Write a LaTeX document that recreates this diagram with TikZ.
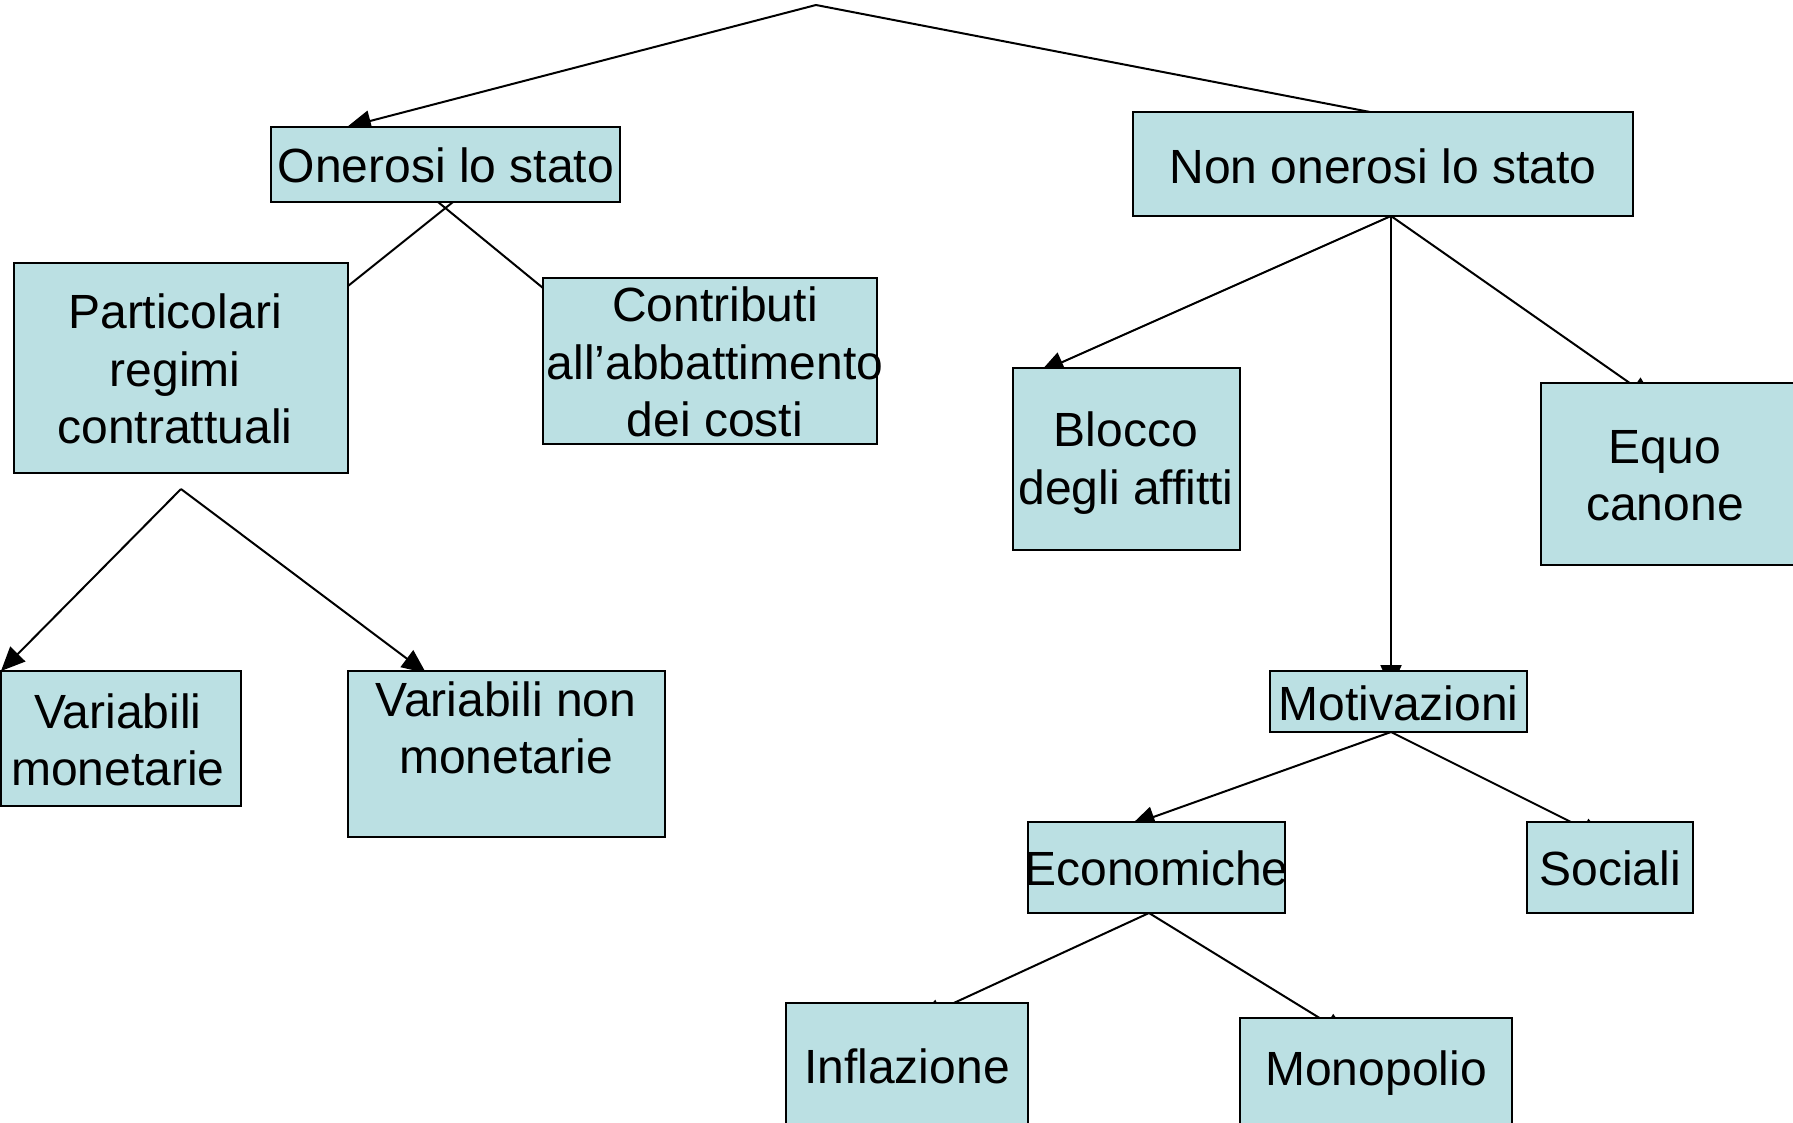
\documentclass[tikz,border=0pt]{standalone}
\usepackage{fontspec}
\setmainfont{Liberation Sans}
\usetikzlibrary{arrows.meta,calc,backgrounds}
\definecolor{boxfill}{RGB}{187,224,227}
\begin{document}
\begin{tikzpicture}[x=0.5pt,y=-0.5pt,
  box/.style={draw=black,line width=1pt,fill=boxfill,inner sep=0pt,outer sep=0pt,rectangle},
  txt/.style={font=\fontsize{24}{28.6}\selectfont,align=center,inner sep=0pt},
  conn/.style={line width=1pt,black},
  arr/.style={conn,-{Triangle[length=12pt,width=10.5pt]}}]
\useasboundingbox (0,0) rectangle (1793,1123);
% boxes
\node[box,minimum width=174.5pt,minimum height=37.5pt] (on)   at (445.5,164.5) {};
\node[box,minimum width=250pt,minimum height=52pt]     (non)  at (1383,164) {};
\node[box,minimum width=167pt,minimum height=105pt]    (par)  at (181,368) {};
\node[box,minimum width=167pt,minimum height=83pt]     (con)  at (710,361) {};
\node[box,minimum width=113.5pt,minimum height=91pt]   (blo)  at (1126.5,459) {};
\node[box,minimum width=129.5pt,minimum height=91pt]   (equ)  at (1670.5,474) {};
\node[box,minimum width=120pt,minimum height=67.5pt]   (vm)   at (121,738.5) {};
\node[box,minimum width=158.5pt,minimum height=83pt]   (vnm)  at (506.5,754) {};
\node[box,minimum width=128.5pt,minimum height=30.5pt] (mot)  at (1398.5,701.5) {};
\node[box,minimum width=128.5pt,minimum height=45.5pt] (eco)  at (1156.5,867.5) {};
\node[box,minimum width=83pt,minimum height=45.5pt]    (soc)  at (1610,867.5) {};
\node[box,minimum width=121pt,minimum height=63pt]     (inf)  at (907,1066) {};
\node[box,minimum width=136pt,minimum height=55pt]     (mono) at (1376,1073) {};
% texts
\node[txt] (ton)   at (446,165)   {Onerosi lo stato};
\node[txt] (tnon)  at (1383,166)  {Non onerosi lo stato};
\node[txt] (tpar)  at (175,369)   {Particolari\\regimi\\contrattuali};
\node[txt] (tcon)  at (715,362)   {Contributi\\all’abbattimento\\dei costi};
\node[txt] (tblo)  at (1126,463)  {Blocco\\degli affitti};
\node[txt] (tequ)  at (1665,476)  {Equo\\canone};
\node[txt] (tvm)   at (118,740)   {Variabili\\monetarie};
\node[txt] (tvnm)  at (506,727.5) {Variabili non\\monetarie};
\node[txt] (tmot)  at (1398.5,703) {Motivazioni};
\node[txt] (teco)  at (1156.5,868) {Economiche};
\node[txt] (tsoc)  at (1610,868)  {Sociali};
\node[txt] (tinf)  at (907,1066)  {Inflazione};
\node[txt] (tmono) at (1376,1073) {Monopolio};
% connectors
\coordinate (apex) at (816,5);
\coordinate (fork) at ($(par.south)+(0,16)$);
\begin{scope}[on background layer]
\draw[arr]  (apex) -- ($(on.north)+(-98.5,0)$);
\draw[conn] (apex) -- ($(non.north)+(-13,0)$);
\draw[conn] ($(on.south)+(7.5,0)$) -- ($(par.north east)+(0,23)$);
\draw[conn] ($(on.south)+(-7.5,0)$) -- ($(con.north west)+(0,10)$);
\draw[arr]  (fork) -- ($(vm.north west)+(0,0)$);
\draw[arr]  (fork) -- ($(vnm.north west)+(78,2)$);
\draw[arr]  ($(non.south)+(8,0)$) -- ($(blo.north west)+(27,4)$);
\draw[arr]  ($(non.south)+(8,-14)$) -- ($(mot.north)+(-7.5,18)$);
\draw[arr]  ($(non.south)+(8,0)$) -- ($(equ.north west)+(113,17)$);
\draw[arr]  ($(mot.south)+(-7.5,0)$) -- ($(eco.north west)+(103,3)$);
\draw[arr]  ($(mot.south)+(-7.5,0)$) -- ($(soc.north west)+(78,17)$);
\draw[arr]  ($(eco.south)+(-7.5,0)$) -- ($(inf.north west)+(132,16.5)$);
\draw[arr]  ($(eco.south)+(-7.5,0)$) -- ($(mono.north west)+(108,17.5)$);
\end{scope}
\end{tikzpicture}
\end{document}
